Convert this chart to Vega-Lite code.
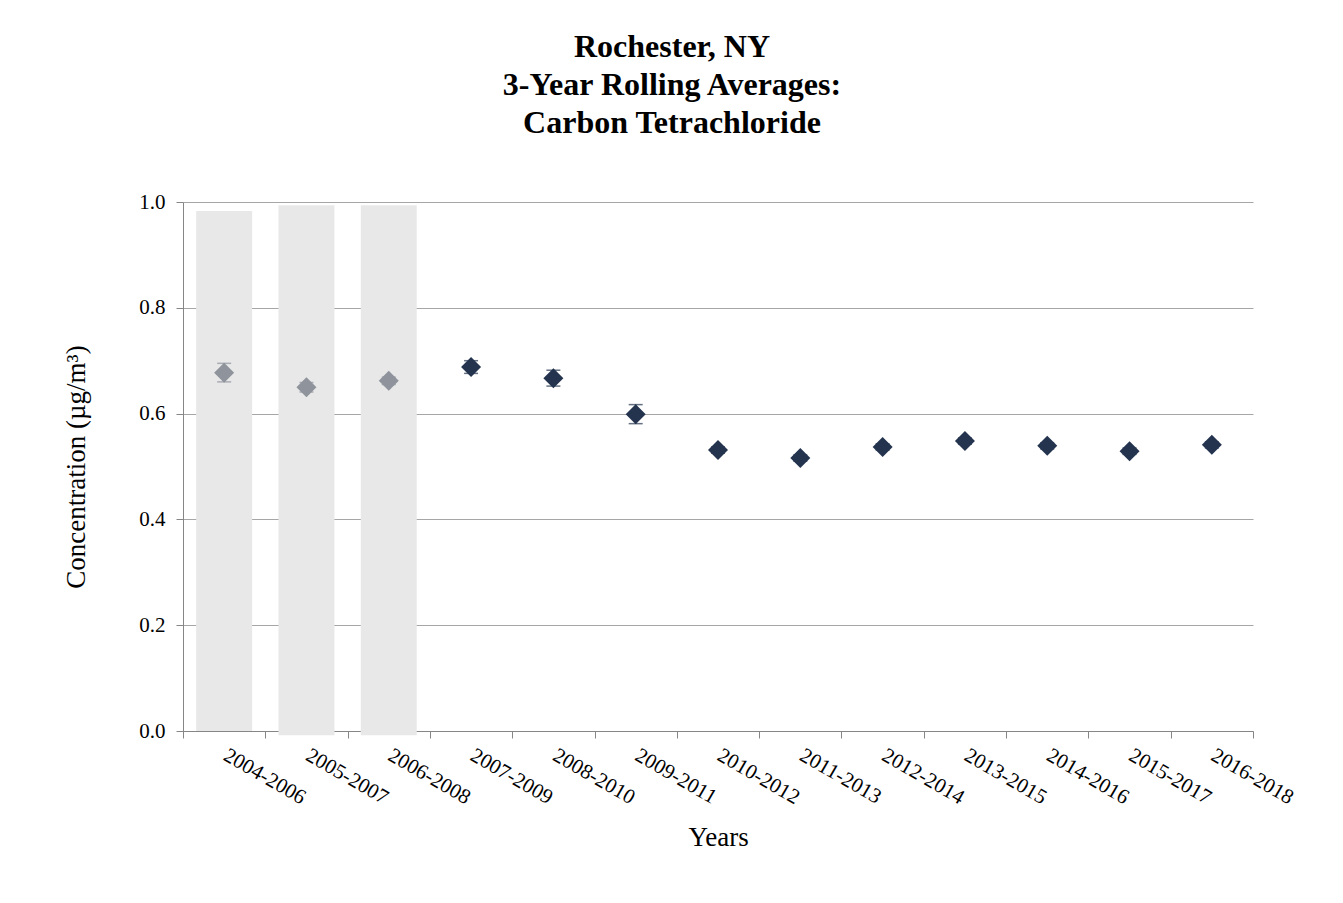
{
  "$schema": "https://vega.github.io/schema/vega-lite/v6.json",
  "description": "Rochester NY carbon tetrachloride 3-year rolling averages",
  "autosize": "none",
  "width": 1070,
  "height": 529,
  "padding": {"left": 183, "top": 202, "right": 90, "bottom": 172},
  "background": "white",
  "title": {
    "text": ["Rochester, NY", "3-Year Rolling Averages:", "Carbon Tetrachloride"],
    "font": "Liberation Serif",
    "fontSize": 32,
    "fontWeight": "bold",
    "lineHeight": 38,
    "color": "black",
    "anchor": "middle",
    "frame": "group",
    "baseline": "bottom",
    "offset": 19,
    "dx": -46
  },
  "data": {
    "values": [
      {"period": "2004-2006", "value": 0.677, "lo": 0.660, "hi": 0.695, "grp": "early", "shadeTop": 0.983, "shadeBottom": 0.0},
      {"period": "2005-2007", "value": 0.650, "lo": 0.641, "hi": 0.659, "grp": "early", "shadeTop": 0.994, "shadeBottom": -0.008},
      {"period": "2006-2008", "value": 0.662, "lo": 0.655, "hi": 0.669, "grp": "early", "shadeTop": 0.994, "shadeBottom": -0.008},
      {"period": "2007-2009", "value": 0.688, "lo": 0.676, "hi": 0.700, "grp": "late"},
      {"period": "2008-2010", "value": 0.667, "lo": 0.652, "hi": 0.682, "grp": "late"},
      {"period": "2009-2011", "value": 0.599, "lo": 0.581, "hi": 0.617, "grp": "late"},
      {"period": "2010-2012", "value": 0.531, "lo": 0.525, "hi": 0.537, "grp": "late"},
      {"period": "2011-2013", "value": 0.516, "lo": 0.510, "hi": 0.522, "grp": "late"},
      {"period": "2012-2014", "value": 0.537, "lo": 0.531, "hi": 0.543, "grp": "late"},
      {"period": "2013-2015", "value": 0.548, "lo": 0.542, "hi": 0.554, "grp": "late"},
      {"period": "2014-2016", "value": 0.539, "lo": 0.533, "hi": 0.545, "grp": "late"},
      {"period": "2015-2017", "value": 0.529, "lo": 0.523, "hi": 0.535, "grp": "late"},
      {"period": "2016-2018", "value": 0.541, "lo": 0.535, "hi": 0.547, "grp": "late"}
    ]
  },
  "encoding": {
    "x": {
      "field": "period",
      "type": "nominal",
      "sort": null,
      "scale": {"paddingInner": 0, "paddingOuter": 0},
      "title": "Years",
      "axis": {
        "labelFont": "Liberation Serif",
        "labelFontSize": 21,
        "labelAngle": 30,
        "labelAlign": "left",
        "labelBaseline": "top",
        "labelPadding": 6,
        "labelOffset": 6,
        "titleFont": "Liberation Serif",
        "titleFontSize": 27,
        "titlePadding": 17,
        "tickBand": "extent"
      }
    }
  },
  "layer": [
    {
      "transform": [{"filter": "datum.shadeTop != null"}],
      "mark": {"type": "bar", "color": "#e8e8e8", "width": {"band": 0.68}},
      "encoding": {
        "y": {
          "field": "shadeTop",
          "type": "quantitative",
          "scale": {"domain": [0, 1], "nice": false},
          "title": "Concentration (µg/m³)",
          "axis": {
            "values": [0, 0.2, 0.4, 0.6, 0.8, 1.0],
            "format": ".1f",
            "labelFont": "Liberation Serif",
            "labelFontSize": 21,
            "labelPadding": 11,
            "titleFont": "Liberation Serif",
            "titleFontSize": 27,
            "titlePadding": 48
          }
        },
        "y2": {"field": "shadeBottom"}
      }
    },
    {
      "mark": {"type": "rule", "strokeWidth": 1.5},
      "encoding": {
        "y": {"field": "lo", "type": "quantitative"},
        "y2": {"field": "hi"},
        "color": {
          "field": "grp",
          "type": "nominal",
          "scale": {"domain": ["early", "late"], "range": ["#8e939c", "#24344f"]},
          "legend": null
        }
      }
    },
    {
      "mark": {"type": "tick", "size": 14, "thickness": 1.5, "orient": "horizontal"},
      "encoding": {
        "y": {"field": "lo", "type": "quantitative"},
        "color": {"field": "grp", "type": "nominal", "legend": null}
      }
    },
    {
      "mark": {"type": "tick", "size": 14, "thickness": 1.5, "orient": "horizontal"},
      "encoding": {
        "y": {"field": "hi", "type": "quantitative"},
        "color": {"field": "grp", "type": "nominal", "legend": null}
      }
    },
    {
      "mark": {"type": "point", "shape": "diamond", "filled": true, "size": 400, "opacity": 1},
      "encoding": {
        "y": {"field": "value", "type": "quantitative"},
        "color": {"field": "grp", "type": "nominal", "legend": null}
      }
    }
  ],
  "config": {
    "font": "Liberation Serif",
    "view": {"stroke": null},
    "axis": {
      "labelFont": "Liberation Serif",
      "labelColor": "black",
      "titleFont": "Liberation Serif",
      "titleFontWeight": "normal",
      "titleColor": "black",
      "domainColor": "#868686",
      "tickColor": "#868686",
      "tickSize": 7,
      "gridColor": "#a6a6a6",
      "gridWidth": 1
    },
    "axisX": {"grid": false},
    "axisY": {"grid": true, "domain": true}
  }
}
